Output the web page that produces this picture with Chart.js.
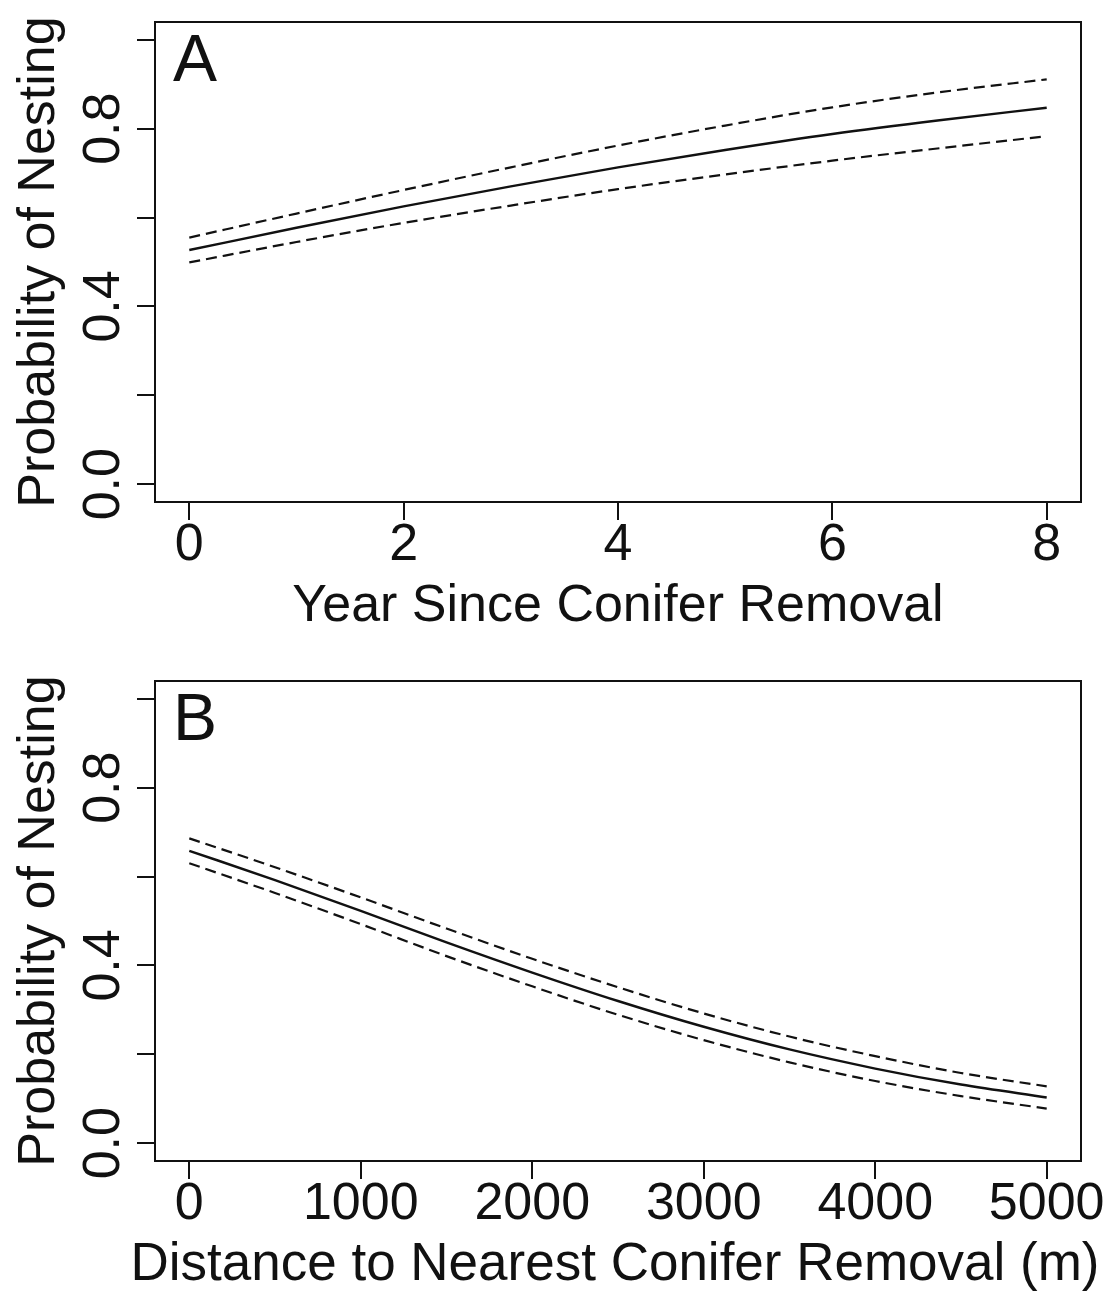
<!DOCTYPE html>
<html>
<head>
<meta charset="utf-8">
<script src="https://cdn.jsdelivr.net/npm/chart.js@4"></script>
<style>
  html, body { margin: 0; padding: 0; background: #fff; }
  #wrap { position: relative; width: 1110px; height: 1293px; }
  .panel { position: absolute; left: 0; width: 1110px; }
  #panelA { top: 0; height: 659px; }
  #panelB { top: 659px; height: 634px; }
</style>
</head>
<body>
<div id="wrap">
  <div class="panel" id="panelA"><canvas id="chartA"></canvas></div>
  <div class="panel" id="panelB"><canvas id="chartB"></canvas></div>
</div>
<script>
'use strict';

// Panel A: years since conifer removal
const yearsA = [0, 1, 2, 3, 4, 5, 6, 7, 8];
const fitA   = [0.527, 0.577, 0.625, 0.670, 0.713, 0.752, 0.788, 0.819, 0.847];
const upperA = [0.555, 0.609, 0.662, 0.713, 0.762, 0.807, 0.848, 0.882, 0.911];
const lowerA = [0.499, 0.545, 0.588, 0.627, 0.664, 0.697, 0.728, 0.756, 0.783];
const yearTicks = [0, 2, 4, 6, 8];

// Panel B: distance to nearest conifer removal (m)
const distB  = [0, 500, 1000, 1500, 2000, 2500, 3000, 3500, 4000, 4500, 5000];
const fitB   = [0.658, 0.592, 0.523, 0.452, 0.384, 0.320, 0.262, 0.211, 0.168, 0.132, 0.103];
const upperB = [0.686, 0.621, 0.553, 0.483, 0.415, 0.351, 0.292, 0.240, 0.196, 0.158, 0.128];
const lowerB = [0.630, 0.563, 0.493, 0.421, 0.353, 0.289, 0.232, 0.182, 0.140, 0.106, 0.078];
const distTicks = [0, 1000, 2000, 3000, 4000, 5000];

// shared probability axis
const probTicks  = [0, 0.2, 0.4, 0.6, 0.8, 1.0];
const probLabels = ['0.0', '', '0.4', '', '0.8', ''];

const INK = '#111';
const FONT = '"Liberation Sans", Arial, sans-serif';

Chart.defaults.font.family = FONT;
Chart.defaults.color = INK;

// box around the plot region, rotated y labels, x title and the panel letter
const panelDecor = {
  id: 'panelDecor',
  afterDraw(chart, args, opts) {
    const { ctx, chartArea: a, scales } = chart;
    ctx.save();
    ctx.strokeStyle = INK;
    ctx.lineWidth = 2;
    ctx.strokeRect(a.left, a.top, a.right - a.left, a.bottom - a.top);

    ctx.fillStyle = INK;
    ctx.font = '52px ' + FONT;
    ctx.textAlign = 'center';
    ctx.textBaseline = 'alphabetic';
    probTicks.forEach((v, i) => {
      const lab = probLabels[i];
      if (!lab) return;
      const y = scales.y.getPixelForValue(v);
      ctx.save();
      ctx.translate(a.left - 36, y);
      ctx.rotate(-Math.PI / 2);
      ctx.fillText(lab, 0, 0);
      ctx.restore();
    });

    // x axis title, allowed to run wider than the plot box
    ctx.font = opts.titleSize + 'px ' + FONT;
    ctx.textBaseline = 'middle';
    ctx.fillText(opts.xTitle, (a.left + a.right) / 2 + opts.titleShift, a.bottom + opts.titleOffset);

    ctx.font = '66px ' + FONT;
    ctx.textAlign = 'left';
    ctx.textBaseline = 'alphabetic';
    ctx.fillText(opts.letter, a.left + 18, a.top + 59);
    ctx.restore();
  }
};

function toPoints(xs, ys) {
  return xs.map((x, i) => ({ x: x, y: ys[i] }));
}

function lineSet(xs, ys, dashed) {
  return {
    data: toPoints(xs, ys),
    borderColor: INK,
    borderWidth: dashed ? 2.2 : 2.4,
    borderDash: dashed ? [11, 6] : [],
    pointRadius: 0,
    fill: false,
    cubicInterpolationMode: 'monotone'
  };
}

function makePanel(id, cfg) {
  const axisStyle = {
    grid: { drawOnChartArea: false, drawTicks: true, tickLength: 18, color: INK, lineWidth: 2 },
    border: { display: true, color: INK, width: 2 }
  };

  return new Chart(document.getElementById(id), {
    type: 'line',
    data: {
      datasets: [
        lineSet(cfg.xs, cfg.upper, true),
        lineSet(cfg.xs, cfg.fit, false),
        lineSet(cfg.xs, cfg.lower, true)
      ]
    },
    options: {
      responsive: true,
      maintainAspectRatio: false,
      animation: false,
      layout: { padding: { top: 22, right: 29, left: 0, bottom: 0 } },
      plugins: {
        legend: { display: false },
        tooltip: { enabled: false },
        panelDecor: {
          letter: cfg.letter,
          xTitle: cfg.xTitle,
          titleSize: cfg.titleSize,
          titleOffset: cfg.titleOffset,
          titleShift: cfg.titleShift
        }
      },
      scales: {
        x: {
          type: 'linear',
          min: cfg.xMin,
          max: cfg.xMax,
          afterBuildTicks: s => { s.ticks = cfg.xTicks.map(v => ({ value: v })); },
          afterFit: s => { s.height = cfg.xAxisHeight; },
          ...axisStyle,
          ticks: {
            autoSkip: false,
            maxRotation: 0,
            color: INK,
            padding: 2,
            font: { size: 52, lineHeight: 0.9 },
            callback: v => String(v)
          },
          title: { display: false }
        },
        y: {
          type: 'linear',
          min: -0.04,
          max: 1.04,
          afterBuildTicks: s => { s.ticks = probTicks.map(v => ({ value: v })); },
          afterFit: s => { s.width = 155; },
          ...axisStyle,
          ticks: { display: false },
          title: {
            display: true,
            text: 'Probability of Nesting',
            color: INK,
            font: { size: 52, lineHeight: 1.2 },
            padding: { top: 8, bottom: 0 }
          }
        }
      }
    },
    plugins: [panelDecor]
  });
}

makePanel('chartA', {
  letter: 'A',
  xs: yearsA, fit: fitA, upper: upperA, lower: lowerA,
  xTicks: yearTicks, xMin: -0.32, xMax: 8.32,
  xTitle: 'Year Since Conifer Removal', titleSize: 52, titleOffset: 105, titleShift: 0,
  xAxisHeight: 157
});

makePanel('chartB', {
  letter: 'B',
  xs: distB, fit: fitB, upper: upperB, lower: lowerB,
  xTicks: distTicks, xMin: -200, xMax: 5200,
  xTitle: 'Distance to Nearest Conifer Removal (m)', titleSize: 53, titleOffset: 104, titleShift: -3,
  xAxisHeight: 132
});
</script>
</body>
</html>
